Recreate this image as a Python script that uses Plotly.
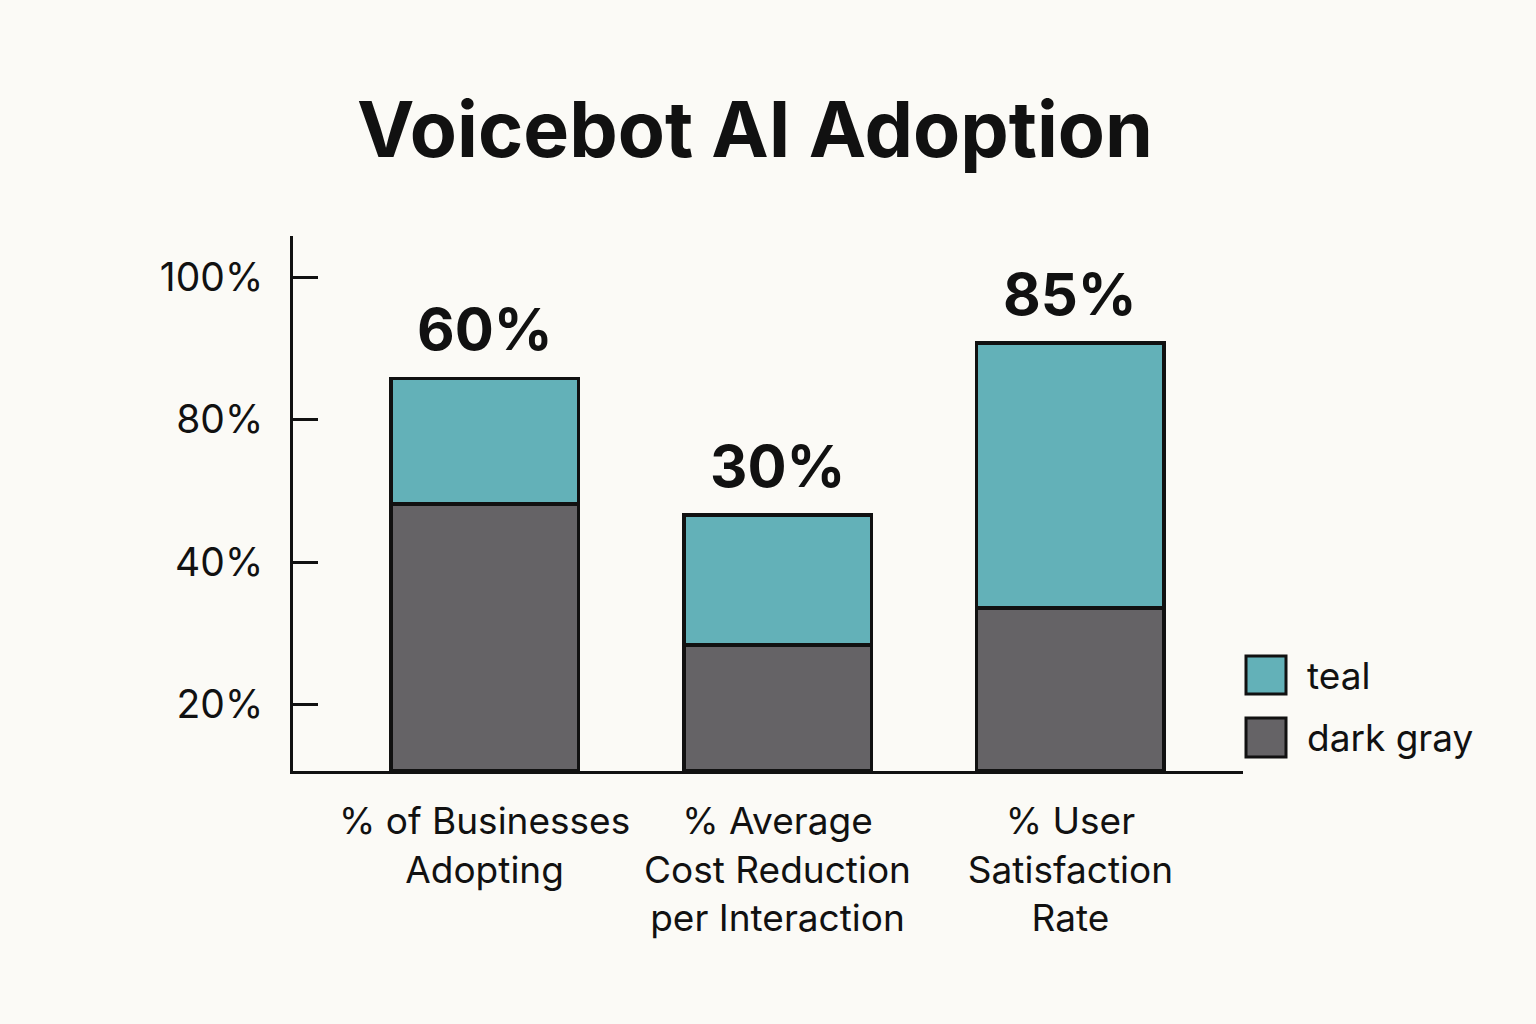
import plotly.graph_objects as go

# ---- data ----
categories = ["% of Businesses<br>Adopting",
              "% Average<br>Cost Reduction<br>per Interaction",
              "% User<br>Satisfaction<br>Rate"]
dark_gray_values = [54.0, 25.5, 33.0]
teal_values = [25.5, 26.3, 53.6]
bar_labels = ["60%", "30%", "85%"]
tick_positions = [13.4, 42.3, 71.1, 100.0]
tick_labels = ["20%", "40%", "80%", "100%"]
legend_names = ["teal", "dark gray"]

TEAL = "#63B1B8"
GRAY = "#656366"
BG = "#FBFAF6"
INK = "#111111"
FONT = "Inter"

W, H = 1536, 1024
L, R, T, B = 293, 293, 236, 253

fig = go.Figure()
fig.add_trace(go.Bar(x=categories, y=dark_gray_values, name=legend_names[1],
                     marker=dict(color=GRAY, line=dict(color=INK, width=3.5)),
                     width=0.64, showlegend=False))
fig.add_trace(go.Bar(x=categories, y=teal_values, name=legend_names[0],
                     marker=dict(color=TEAL, line=dict(color=INK, width=3.5)),
                     width=0.64, showlegend=False))

totals = [g + t for g, t in zip(dark_gray_values, teal_values)]
for c, tot, lab in zip(categories, totals, bar_labels):
    fig.add_annotation(x=c, y=tot, text=lab, showarrow=False, yanchor="bottom",
                       yshift=12, font=dict(family=FONT, size=58, color=INK, weight="bold"))

# custom legend (pixel helper -> paper coords)
pw, ph = W - L - R, H - T - B
def px(x): return (x - L) / pw
def py(y): return (H - B - y) / ph

legend_boxes = [(656, 694), (718, 757)]
legend_colors = [TEAL, GRAY]
for (y0, y1), col, name in zip(legend_boxes, legend_colors, legend_names):
    fig.add_shape(type="rect", xref="paper", yref="paper",
                  x0=px(1246), x1=px(1286), y0=py(y1), y1=py(y0),
                  fillcolor=col, line=dict(color=INK, width=3))
    fig.add_annotation(xref="paper", yref="paper", x=px(1305), y=py((y0 + y1) / 2),
                       text=name, showarrow=False, xanchor="left", yanchor="middle",
                       font=dict(family=FONT, size=37, color=INK))

fig.update_layout(
    width=W, height=H,
    margin=dict(l=L, r=R, t=T, b=B),
    paper_bgcolor=BG, plot_bgcolor=BG,
    barmode="stack",
    title=dict(text="<b>Voicebot AI Adoption</b>", x=755 / W, xanchor="center",
               y=1 - 130 / H, yanchor="middle", yref="container",
               font=dict(family=FONT, size=77, color=INK)),
    font=dict(family=FONT, color=INK),
    xaxis=dict(range=[-0.654, 2.589], showline=True, linecolor=INK, linewidth=3,
               showgrid=False, zeroline=False, ticks="", ticklabelstandoff=16,
               tickfont=dict(family=FONT, size=37, color=INK)),
    yaxis=dict(range=[0, 108.3], showline=True, linecolor=INK, linewidth=3,
               showgrid=False, zeroline=False, ticks="inside", ticklen=25,
               tickwidth=3, tickcolor=INK, tickvals=tick_positions, ticktext=tick_labels,
               ticklabelstandoff=19,
               tickfont=dict(family=FONT, size=39, color=INK)),
)

fig.write_html("out.html")
